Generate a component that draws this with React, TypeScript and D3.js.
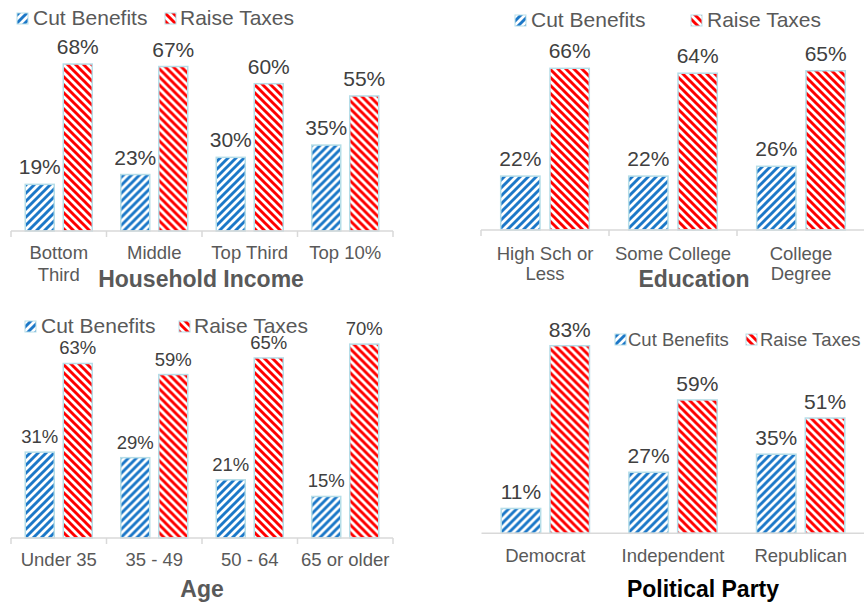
import React from 'react';
import * as d3 from 'd3';

// series
const seriesNames = ['Cut Benefits', 'Raise Taxes'];

// Household income
const incomeCategories = [['Bottom', 'Third'], ['Middle'], ['Top Third'], ['Top 10%']];
const incomeCut = [19, 23, 30, 35];
const incomeRaise = [68, 67, 60, 55];

// Education
const educationCategories = [['High Sch or', 'Less'], ['Some College'], ['College', 'Degree']];
const educationCut = [22, 22, 26];
const educationRaise = [66, 64, 65];

// Age
const ageCategories = [['Under 35'], ['35 - 49'], ['50 - 64'], ['65 or older']];
const ageCut = [31, 29, 21, 15];
const ageRaise = [63, 59, 65, 70];

// Political party
const partyCategories = [['Democrat'], ['Independent'], ['Republican']];
const partyCut = [11, 27, 35];
const partyRaise = [83, 59, 51];

const FONT = '"Liberation Sans", Arial, Helvetica, sans-serif';
const BLUE = '#1c78c8';
const RED = '#ff0000';
const BORDER = '#b5dde8';

interface Layout {
  x0: number;
  x1: number;
  baseline: number;
  pxPerPct: number;
  barW: number;
  gap: number;
  ticks: boolean;
  labelSize: number;
  labelGap: number;
  catSize: number;
  catBaseline: number;
  catLineH: number;
  title: string;
  titleX: number;
  titleY: number;
  titleColor: string;
  legendIcons: number[];
  legendTexts: number[];
  legendY: number;
  legendSize: number;
}

interface PanelProps {
  categories: string[][];
  cut: number[];
  raise: number[];
  layout: Layout;
}

const Panel: React.FC<PanelProps> = ({ categories, cut, raise, layout: L }) => {
  const keys = categories.map(c => c.join(' '));
  const x = d3.scaleBand<string>().domain(keys).range([L.x0, L.x1]).padding(0);
  const step = x.bandwidth();
  const groupW = L.barW * 2 + L.gap;
  const pad = (step - groupW) / 2;
  const xs = d3.scaleBand<string>()
    .domain(seriesNames)
    .range([pad, pad + groupW])
    .paddingInner(L.gap / (L.barW + L.gap))
    .paddingOuter(0);
  const y = d3.scaleLinear().domain([0, 100]).range([L.baseline, L.baseline - 100 * L.pxPerPct]);
  const fills = [`url(#hatchBlue)`, `url(#hatchRed)`];
  const iconSize = 11;

  return (
    <g>
      {/* legend */}
      {seriesNames.map((name, i) => (
        <g key={name}>
          <rect
            x={L.legendIcons[i]}
            y={L.legendY - iconSize - 1}
            width={iconSize}
            height={iconSize}
            fill={fills[i]}
            stroke={BORDER}
            strokeWidth={1}
          />
          <text x={L.legendTexts[i]} y={L.legendY} fontSize={L.legendSize} fill="#595959" fontFamily={FONT}>
            {name}
          </text>
        </g>
      ))}

      {/* bars */}
      {keys.map((k, ci) => {
        const vals = [cut[ci], raise[ci]];
        return (
          <g key={k} transform={`translate(${x(k)},0)`}>
            {vals.map((v, si) => {
              const bx = xs(seriesNames[si]) || 0;
              return (
                <g key={si}>
                  <rect
                    x={bx}
                    y={y(v)}
                    width={xs.bandwidth()}
                    height={L.baseline - y(v)}
                    fill={fills[si]}
                    stroke={BORDER}
                    strokeWidth={1.5}
                  />
                  <text
                    x={bx + xs.bandwidth() / 2}
                    y={y(v) - L.labelGap}
                    textAnchor="middle"
                    fontSize={L.labelSize}
                    fill="#404040"
                    fontFamily={FONT}
                  >
                    {v}%
                  </text>
                </g>
              );
            })}
          </g>
        );
      })}

      {/* axis */}
      <line x1={L.x0} x2={L.x1} y1={L.baseline} y2={L.baseline} stroke="#d9d9d9" strokeWidth={1.5} />
      {L.ticks && keys.concat(['__end']).map((k, i) => {
        const tx = i < keys.length ? (x(k) as number) : L.x1;
        return <line key={k} x1={tx} x2={tx} y1={L.baseline} y2={L.baseline + 6} stroke="#d9d9d9" strokeWidth={1.5} />;
      })}
      {categories.map((lines, ci) => (
        <text
          key={ci}
          x={(x(keys[ci]) as number) + step / 2}
          y={L.catBaseline}
          textAnchor="middle"
          fontSize={L.catSize}
          fill="#595959"
          fontFamily={FONT}
        >
          {lines.map((ln, li) => (
            <tspan key={li} x={(x(keys[ci]) as number) + step / 2} y={L.catBaseline + li * L.catLineH}>
              {ln}
            </tspan>
          ))}
        </text>
      ))}

      {/* title */}
      <text
        x={L.titleX}
        y={L.titleY}
        textAnchor="middle"
        fontSize={23}
        fontWeight="bold"
        fill={L.titleColor}
        fontFamily={FONT}
      >
        {L.title}
      </text>
    </g>
  );
};

const incomeLayout: Layout = {
  x0: 11, x1: 393, baseline: 231, pxPerPct: 2.455, barW: 29, gap: 9, ticks: true,
  labelSize: 21, labelGap: 10, catSize: 18.5, catBaseline: 259, catLineH: 22,
  title: 'Household Income', titleX: 201, titleY: 287, titleColor: '#595959',
  legendIcons: [17, 165], legendTexts: [33, 180], legendY: 25, legendSize: 21,
};

const educationLayout: Layout = {
  x0: 481, x1: 865, baseline: 230, pxPerPct: 2.45, barW: 39.3, gap: 10, ticks: true,
  labelSize: 21, labelGap: 10, catSize: 18.5, catBaseline: 260, catLineH: 20,
  title: 'Education', titleX: 694, titleY: 287, titleColor: '#595959',
  legendIcons: [515, 691], legendTexts: [531, 707], legendY: 27, legendSize: 21,
};

const ageLayout: Layout = {
  x0: 11, x1: 393, baseline: 538, pxPerPct: 2.77, barW: 29, gap: 9, ticks: true,
  labelSize: 18.5, labelGap: 9, catSize: 18.5, catBaseline: 566, catLineH: 20,
  title: 'Age', titleX: 202, titleY: 597, titleColor: '#595959',
  legendIcons: [25, 179], legendTexts: [41, 194], legendY: 333, legendSize: 21,
};

const partyLayout: Layout = {
  x0: 481.5, x1: 864.5, baseline: 533.3, pxPerPct: 2.26, barW: 39.5, gap: 9.3, ticks: false,
  labelSize: 21, labelGap: 9, catSize: 18.5, catBaseline: 562, catLineH: 20,
  title: 'Political Party', titleX: 703, titleY: 597, titleColor: '#000000',
  legendIcons: [615, 746], legendTexts: [628, 760], legendY: 346, legendSize: 18.5,
};

export default function App() {
  return (
    <svg
      width={864}
      height={602}
      style={{ position: 'absolute', left: 0, top: 0, background: '#fff' }}
    >
      <defs>
        <pattern id="hatchBlue" width={8} height={8} patternUnits="userSpaceOnUse">
          <rect width={8} height={8} fill="#ffffff" />
          <path d="M-2,2 L2,-2 M0,8 L8,0 M6,10 L10,6" stroke={BLUE} strokeWidth={2.9} />
        </pattern>
        <pattern id="hatchRed" width={8} height={8} patternUnits="userSpaceOnUse">
          <rect width={8} height={8} fill="#ffffff" />
          <path d="M-2,6 L2,10 M0,0 L8,8 M6,-2 L10,2" stroke={RED} strokeWidth={2.9} />
        </pattern>
      </defs>
      <Panel categories={incomeCategories} cut={incomeCut} raise={incomeRaise} layout={incomeLayout} />
      <Panel categories={educationCategories} cut={educationCut} raise={educationRaise} layout={educationLayout} />
      <Panel categories={ageCategories} cut={ageCut} raise={ageRaise} layout={ageLayout} />
      <Panel categories={partyCategories} cut={partyCut} raise={partyRaise} layout={partyLayout} />
    </svg>
  );
}
